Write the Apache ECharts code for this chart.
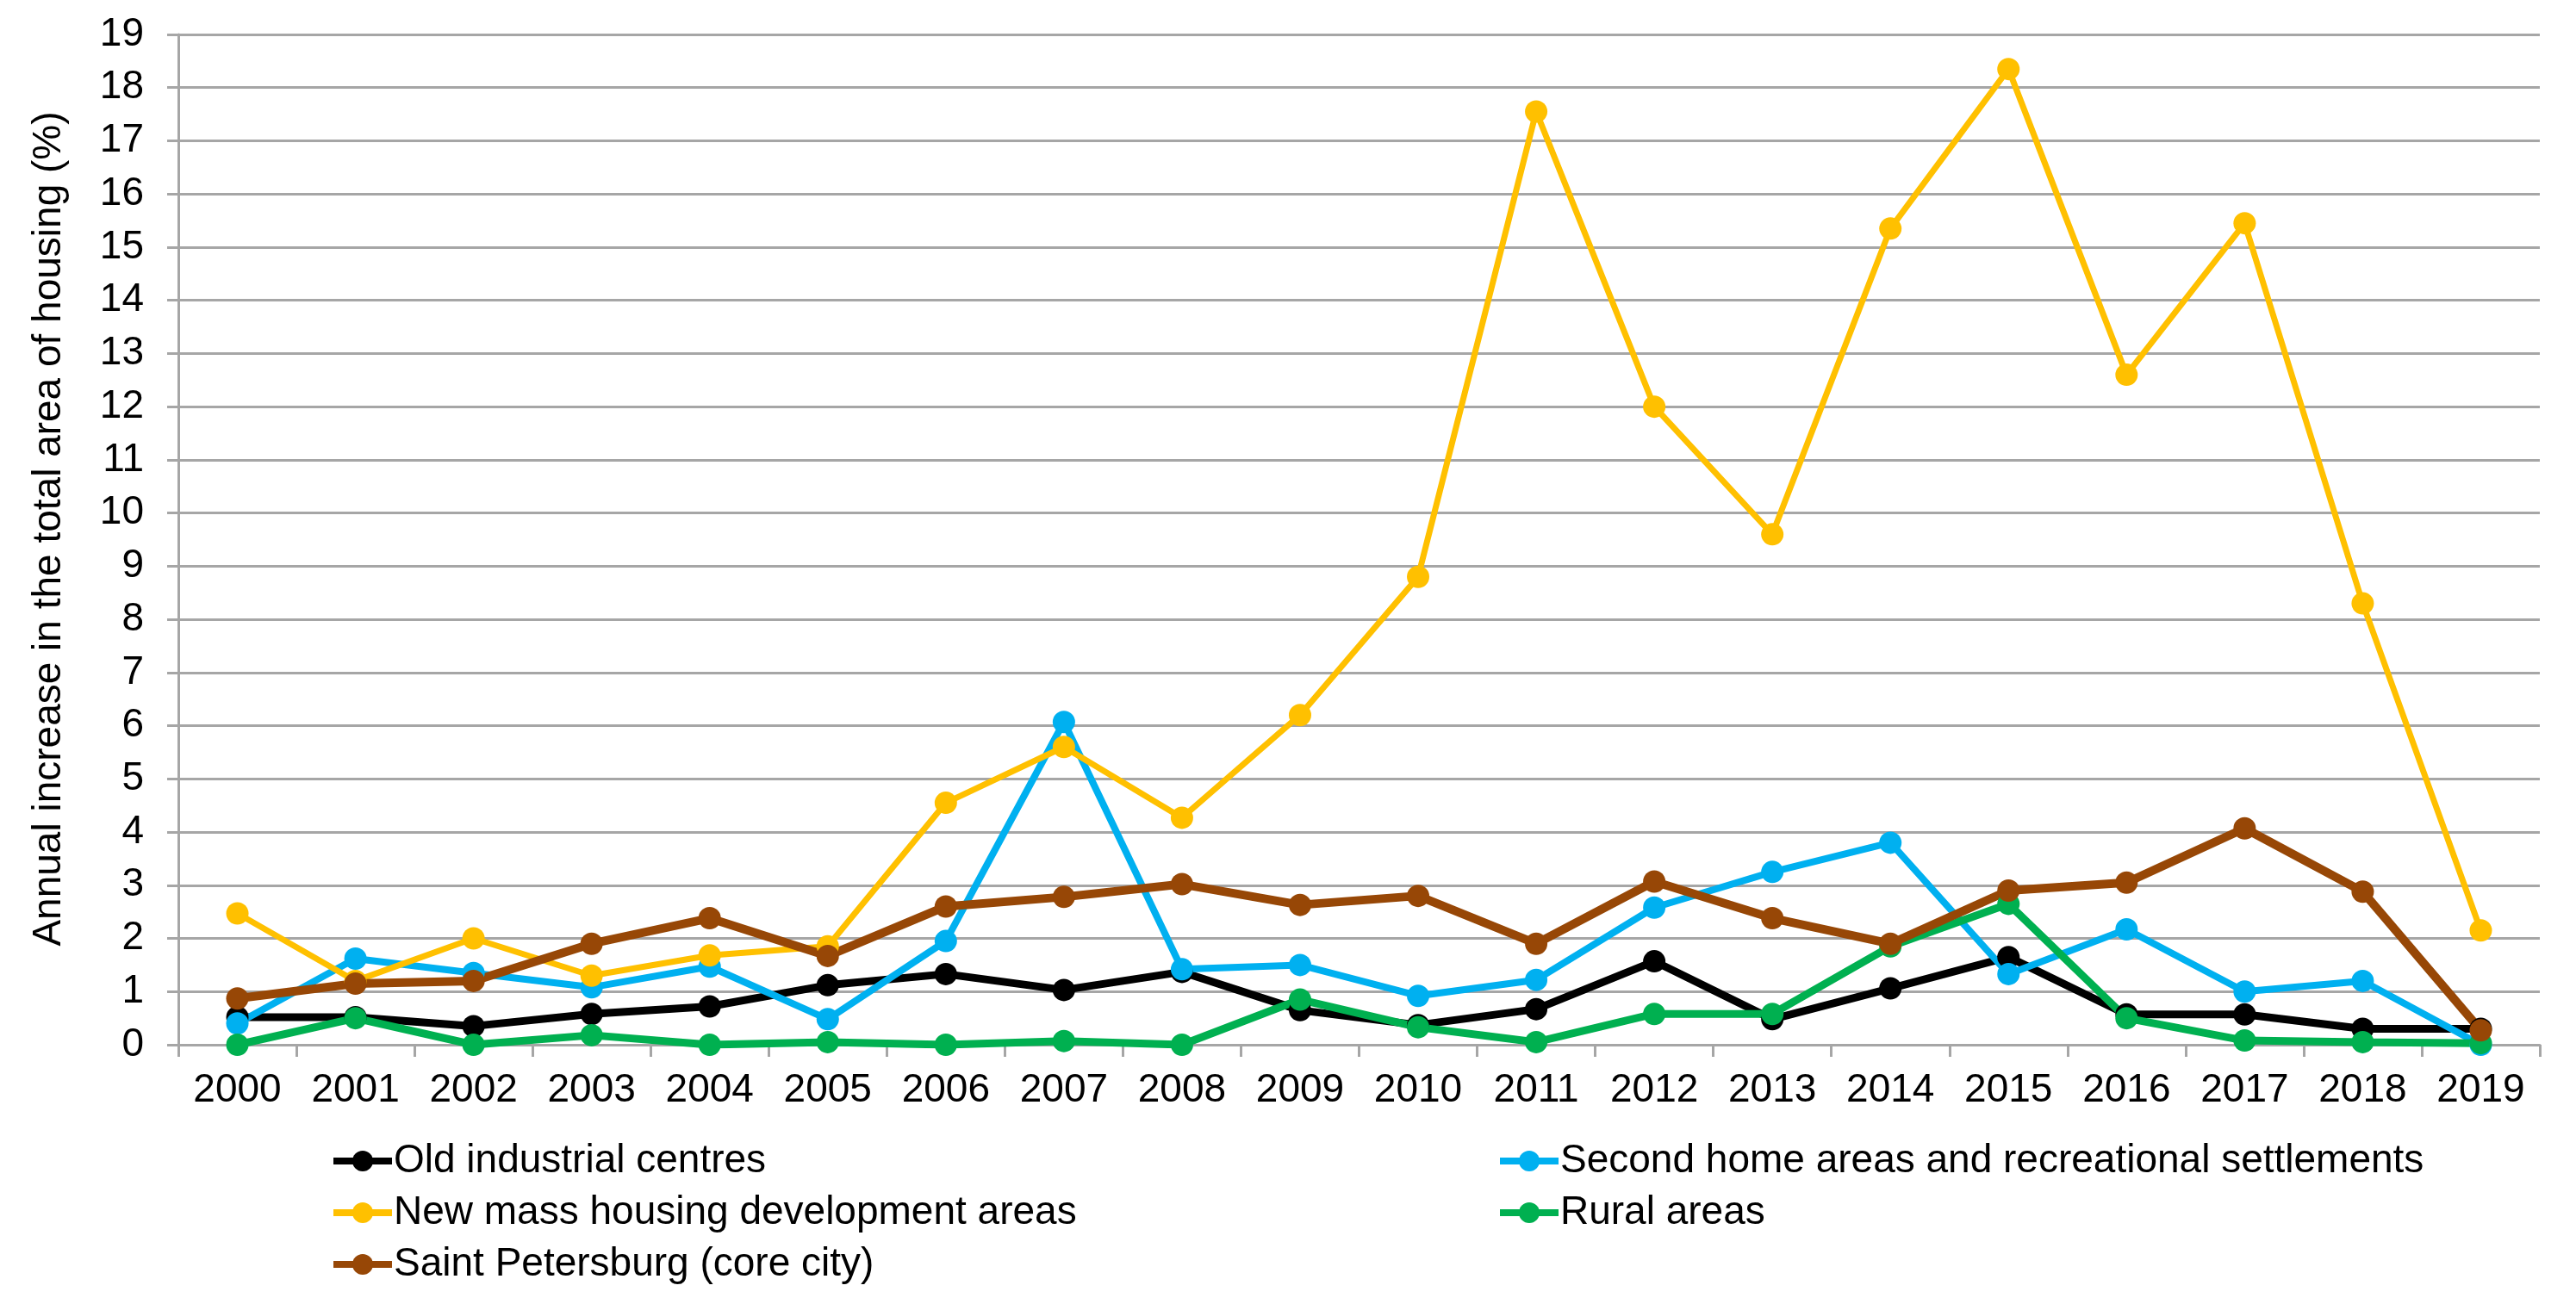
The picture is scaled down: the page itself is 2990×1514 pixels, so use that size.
<!DOCTYPE html>
<html>
<head>
<meta charset="utf-8">
<script src="https://cdn.jsdelivr.net/npm/echarts@6/dist/echarts.min.js"></script>
<style>
html,body{margin:0;padding:0;background:#fff;}
#chart{width:2990px;height:1514px;}
</style>
</head>
<body>
<div id="chart"></div>
<script>
const years = ['2000','2001','2002','2003','2004','2005','2006','2007','2008','2009','2010','2011','2012','2013','2014','2015','2016','2017','2018','2019'];
const oldIndustrial = [0.52,0.52,0.35,0.58,0.72,1.12,1.33,1.03,1.37,0.65,0.37,0.67,1.57,0.48,1.06,1.65,0.57,0.57,0.3,0.3];
const secondHome = [0.4,1.62,1.35,1.08,1.47,0.48,1.95,6.07,1.42,1.5,0.92,1.22,2.58,3.25,3.8,1.33,2.17,1.0,1.2,0.0];
const newMass = [2.47,1.2,2.0,1.3,1.68,1.85,4.55,5.6,4.27,6.2,8.8,17.55,12.0,9.6,15.35,18.35,12.6,15.45,8.3,2.15];
const rural = [0.0,0.5,0.0,0.18,0.0,0.05,0.0,0.07,0.0,0.85,0.33,0.05,0.58,0.58,1.85,2.65,0.5,0.08,0.05,0.03];
const spb = [0.87,1.15,1.2,1.9,2.38,1.67,2.6,2.78,3.02,2.63,2.8,1.9,3.07,2.38,1.9,2.9,3.05,4.07,2.88,0.27];
const yTicks = {min:0, max:19, interval:1};
const names = ['Old industrial centres','Second home areas and recreational settlements','New mass housing development areas','Rural areas','Saint Petersburg (core city)'];

const font = 'Liberation Sans, Arial, sans-serif';
function ser(name, data, color, w){
  return {name, type:'line', data, color, symbol:'circle', symbolSize:26,
    lineStyle:{width:w, color}, itemStyle:{color}};
}
function leg(name, left, top){
  return {data:[name], left, top, itemWidth:68, itemHeight:30, padding:0,
    lineStyle:{width:8},
    textStyle:{fontSize:46, color:'#000', fontFamily:font, padding:[0,0,0,-3]}};
}
const chart = echarts.init(document.getElementById('chart'));
chart.setOption({
  backgroundColor:'#fff',
  animation:false,
  textStyle:{fontFamily:font},
  grid:{left:207, right:42, top:40, bottom:301},
  xAxis:{type:'category', data:years, boundaryGap:true,
    axisLine:{lineStyle:{color:'#A6A6A6', width:3}},
    axisTick:{show:true, length:14, lineStyle:{color:'#A6A6A6', width:3}},
    axisLabel:{fontSize:46, color:'#000', margin:30, fontFamily:font}},
  yAxis:{type:'value', min:yTicks.min, max:yTicks.max, interval:yTicks.interval,
    name:'Annual increase in the total area of housing (%)', nameLocation:'middle', nameGap:127,
    nameTextStyle:{fontSize:46, color:'#000', fontFamily:font, padding:[0,0,0,25]},
    axisLine:{show:true, lineStyle:{color:'#A6A6A6', width:3}},
    axisTick:{show:true, length:13, lineStyle:{color:'#A6A6A6', width:3}},
    axisLabel:{fontSize:46, color:'#000', margin:40, fontFamily:font},
    splitLine:{lineStyle:{color:'#A6A6A6', width:3}}},
  legend:[
    leg(names[0], 383, 1325),
    leg(names[1], 1737, 1325),
    leg(names[2], 383, 1385),
    leg(names[3], 1737, 1385),
    leg(names[4], 383, 1445)
  ],
  series:[
    ser(names[0], oldIndustrial, '#000000', 9),
    ser(names[1], secondHome, '#00B0F0', 8),
    ser(names[2], newMass, '#FFC000', 7),
    ser(names[3], rural, '#00B050', 9),
    ser(names[4], spb, '#974706', 10)
  ]
});
</script>
</body>
</html>
